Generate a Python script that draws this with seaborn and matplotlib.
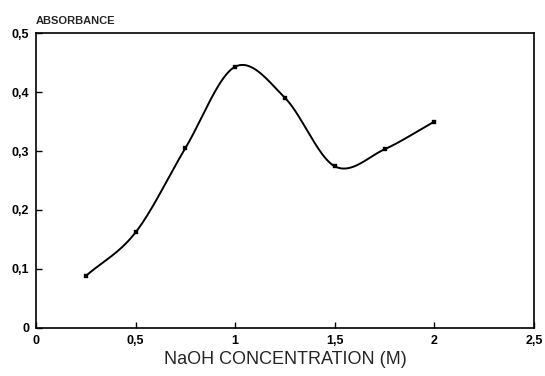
import numpy as np
import pandas as pd
import matplotlib
matplotlib.use("Agg")
import matplotlib.pyplot as plt
import seaborn as sns

naoh_conc = [0.25, 0.5, 0.75, 1.0, 1.25, 1.5, 1.75, 2.0]
absorbance = [0.088, 0.162, 0.305, 0.443, 0.390, 0.274, 0.303, 0.350]

x_ticks = [0, 0.5, 1, 1.5, 2, 2.5]
y_ticks = [0, 0.1, 0.2, 0.3, 0.4, 0.5]


def smooth_curve(x, y, n=400):
    """Catmull-Rom style Hermite curve through the points (drawing only)."""
    x = np.asarray(x, float)
    y = np.asarray(y, float)
    k = len(x)
    h = np.diff(x)
    m = np.zeros(k)
    m[1:-1] = (y[2:] - y[:-2]) / (x[2:] - x[:-2])
    m[0] = (y[1] - y[0]) / h[0]
    m[-1] = (y[-1] - y[-2]) / h[-1]
    xs = np.linspace(x[0], x[-1], n)
    ys = np.empty_like(xs)
    for j, xv in enumerate(xs):
        i = min(np.searchsorted(x, xv, side="right") - 1, k - 2)
        t = (xv - x[i]) / h[i]
        h00 = 2 * t ** 3 - 3 * t ** 2 + 1
        h10 = t ** 3 - 2 * t ** 2 + t
        h01 = -2 * t ** 3 + 3 * t ** 2
        h11 = t ** 3 - t ** 2
        ys[j] = h00 * y[i] + h10 * h[i] * m[i] + h01 * y[i + 1] + h11 * h[i] * m[i + 1]
    return xs, ys


def fmt(v):
    return ("%g" % v).replace(".", ",")


sns.set_style("ticks")
plt.rcParams["font.family"] = ["Liberation Sans", "DejaVu Sans"]

fig = plt.figure(figsize=(5.45, 3.76), dpi=100)
ax = fig.add_axes([0.066, 0.128, 0.914, 0.784])

xs, ys = smooth_curve(naoh_conc, absorbance)
curve = pd.DataFrame({"x": xs, "y": ys})
pts = pd.DataFrame({"x": naoh_conc, "y": absorbance})

sns.lineplot(data=curve, x="x", y="y", ax=ax, color="black", linewidth=1.4)
sns.scatterplot(data=pts, x="x", y="y", ax=ax, color="black", marker="s",
                s=9, edgecolor="black", zorder=3)

ax.set_xlim(0, 2.5)
ax.set_ylim(0, 0.5)
ax.set_xticks(x_ticks)
ax.set_yticks(y_ticks)
ax.set_xticklabels([fmt(v) for v in x_ticks], fontsize=9, fontweight="bold")
ax.set_yticklabels([fmt(v) for v in y_ticks], fontsize=9, fontweight="bold")
ax.tick_params(direction="in", length=4, width=1, pad=5, colors="black")

for side in ["top", "right", "bottom", "left"]:
    ax.spines[side].set_visible(True)
    ax.spines[side].set_linewidth(1.2)
    ax.spines[side].set_color("black")

ax.set_xlabel("NaOH CONCENTRATION (M)", fontsize=13, labelpad=3)
ax.set_ylabel("")
ax.text(0.0, 1.025, "ABSORBANCE", transform=ax.transAxes, fontsize=8,
        fontweight="bold", ha="left", va="bottom")

fig.savefig("out.png", dpi=100)
